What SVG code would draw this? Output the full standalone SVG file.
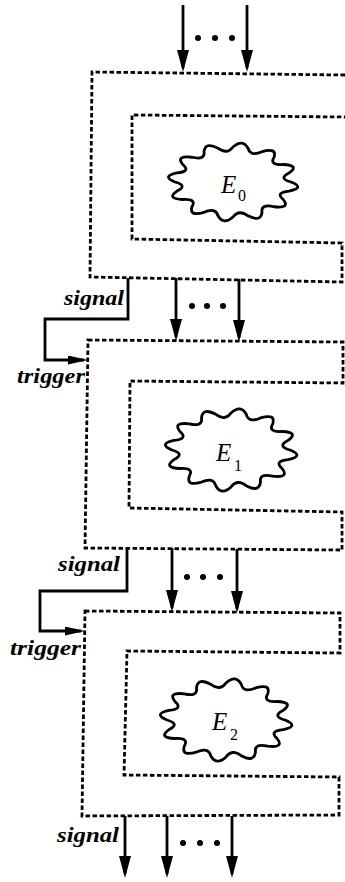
<svg xmlns="http://www.w3.org/2000/svg" width="345" height="882" viewBox="0 0 345 882">
  <style>
    .box { fill: none; stroke: #000; stroke-width: 2.8; stroke-dasharray: 4.5 2.5; }
    .wire { fill: none; stroke: #000; stroke-width: 2.8; }
    .cloud { fill: none; stroke: #000; stroke-width: 2.8; stroke-linejoin: round; }
    .lbl { font-family: "Liberation Serif", "Times New Roman", serif; font-style: italic; font-weight: bold; font-size: 21px; fill: #000; }
    .ename { font-family: "Liberation Serif", "Times New Roman", serif; font-style: italic; font-size: 25px; fill: #000; }
    .esub { font-family: "Liberation Serif", "Times New Roman", serif; font-size: 16px; fill: #000; }
    .dot { fill: #000; }
  </style>
  <defs>
    <marker id="head" viewBox="0 0 22 12" refX="18" refY="6" markerWidth="22" markerHeight="12" markerUnits="userSpaceOnUse" orient="auto">
      <path d="M0,0 L22,6 L0,12 Z" fill="#000"/>
    </marker>
    <marker id="headSmall" viewBox="0 0 20 9" refX="16" refY="4.5" markerWidth="20" markerHeight="9" markerUnits="userSpaceOnUse" orient="auto">
      <path d="M0,0 L20,4.5 L0,9 Z" fill="#000"/>
    </marker>
    <!-- wavy blob on a radius-100 circle; scaled per use, stroke kept in screen units -->
    <path id="blob" vector-effect="non-scaling-stroke" d="M100,0 Q125,16.5 96.6,25.9 Q72.5,30 86.6,50 Q99.2,76.1 70.7,70.7 Q47.6,62.1 50,86.6 Q47.8,115.5 25.9,96.6 Q10.2,77.3 0,100 Q-16.3,124 -25.9,96.6 Q-29.8,72.1 -50,86.6 Q-76.1,99.2 -70.7,70.7 Q-62.1,47.6 -86.6,50 Q-115.5,47.8 -96.6,25.9 Q-77.3,10.2 -100,0 Q-124,-16.3 -96.6,-25.9 Q-72.1,-29.8 -86.6,-50 Q-99.2,-76.1 -70.7,-70.7 Q-47.6,-62.1 -50,-86.6 Q-47.8,-115.5 -25.9,-96.6 Q-10.2,-77.3 0,-100 Q16.3,-124 25.9,-96.6 Q29.8,-72.1 50,-86.6 Q76.1,-99.2 70.7,-70.7 Q62.1,-47.6 86.6,-50 Q115.5,-47.8 96.6,-25.9 Q77.3,-10.2 100,0 Z"/>
  </defs>

  <!-- stage E0 -->
  <g id="stage0">
    <path class="box" d="M345,75 L92,72 L90,277 L342,282 L342,243 L132,239 L132,115 L345,117"/>
    <use href="#blob" class="cloud" transform="translate(233,182) scale(0.58,0.35)"/>
    <text class="ename" x="221" y="193">E</text>
    <text class="esub" x="238" y="201">0</text>
  </g>

  <!-- stage E1 -->
  <g id="stage1">
    <path class="box" d="M88,340 L343,342 L343,383 L130,381 L129,508 L342,512 L342,550 L85,548 Z"/>
    <use href="#blob" class="cloud" transform="translate(231,450) scale(0.59,0.37)"/>
    <text class="ename" x="216" y="461">E</text>
    <text class="esub" x="234" y="471">1</text>
  </g>

  <!-- stage E2 -->
  <g id="stage2">
    <path class="box" d="M85,611 L340,613 L340,653 L127,651 L124,775 L339,777 L339,815 L82,816 Z"/>
    <use href="#blob" class="cloud" transform="translate(226,720) scale(0.59,0.37)"/>
    <text class="ename" x="212" y="730">E</text>
    <text class="esub" x="230" y="740">2</text>
  </g>

  <!-- connectors -->
  <g id="connectors">
    <!-- inputs to E0 -->
    <line class="wire" x1="183" y1="5" x2="183" y2="68" marker-end="url(#head)"/>
    <line class="wire" x1="247" y1="5" x2="247" y2="68" marker-end="url(#head)"/>
    <circle class="dot" cx="198" cy="38" r="3"/>
    <circle class="dot" cx="215" cy="38" r="3"/>
    <circle class="dot" cx="232" cy="38" r="3"/>

    <!-- E0 to E1 -->
    <line class="wire" x1="176" y1="278" x2="176" y2="337" marker-end="url(#head)"/>
    <line class="wire" x1="239" y1="279" x2="239" y2="338" marker-end="url(#head)"/>
    <circle class="dot" cx="192" cy="306" r="3"/>
    <circle class="dot" cx="207" cy="306" r="3"/>
    <circle class="dot" cx="223" cy="306" r="3"/>
    <path class="wire" d="M128,278 V319 H45 V360 H84" marker-end="url(#headSmall)"/>
    <text class="lbl" x="64" y="305" textLength="60" lengthAdjust="spacingAndGlyphs">signal</text>
    <text class="lbl" x="17" y="383" textLength="68" lengthAdjust="spacingAndGlyphs">trigger</text>

    <!-- E1 to E2 -->
    <line class="wire" x1="172" y1="548" x2="172" y2="608" marker-end="url(#head)"/>
    <line class="wire" x1="237" y1="549" x2="237" y2="609" marker-end="url(#head)"/>
    <circle class="dot" cx="187" cy="577" r="3"/>
    <circle class="dot" cx="203" cy="577" r="3"/>
    <circle class="dot" cx="220" cy="577" r="3"/>
    <path class="wire" d="M127,548 V591 H40 V631 H81" marker-end="url(#headSmall)"/>
    <text class="lbl" x="58" y="571" textLength="62" lengthAdjust="spacingAndGlyphs">signal</text>
    <text class="lbl" x="10" y="655" textLength="71" lengthAdjust="spacingAndGlyphs">trigger</text>

    <!-- outputs of E2 -->
    <line class="wire" x1="125" y1="816" x2="125" y2="874" marker-end="url(#head)"/>
    <line class="wire" x1="167" y1="816" x2="167" y2="874" marker-end="url(#head)"/>
    <line class="wire" x1="232" y1="816" x2="232" y2="874" marker-end="url(#head)"/>
    <circle class="dot" cx="183" cy="843" r="3"/>
    <circle class="dot" cx="200" cy="843" r="3"/>
    <circle class="dot" cx="217" cy="843" r="3"/>
    <text class="lbl" x="57" y="842" textLength="62" lengthAdjust="spacingAndGlyphs">signal</text>
  </g>
</svg>
